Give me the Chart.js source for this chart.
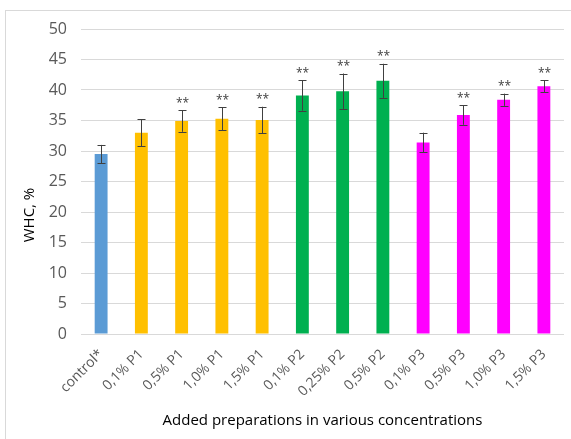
<!DOCTYPE html>
<html>
<head>
<meta charset="utf-8">
<script src="https://cdn.jsdelivr.net/npm/chart.js@4/dist/chart.umd.min.js"></script>
<style>
  html, body { margin: 0; padding: 0; background: #fff; }
  #wrap { width: 571px; height: 439px; position: relative; }
</style>
</head>
<body>
<div id="wrap"><canvas id="c" width="571" height="439"></canvas></div>
<script>
// Water holding capacity by preparation and concentration
const categories = ['control*', '0,1% P1', '0,5% P1', '1,0% P1', '1,5% P1',
  '0,1% P2', '0,25% P2', '0,5% P2', '0,1% P3', '0,5% P3', '1,0% P3', '1,5% P3'];
const whcValues = [29.5, 33.0, 34.9, 35.3, 35.1, 39.1, 39.8, 41.5, 31.4, 35.9, 38.4, 40.6];
const whcErrors = [1.5, 2.2, 1.75, 1.9, 2.15, 2.5, 2.9, 2.8, 1.6, 1.6, 1.0, 1.0];
const significance = ['', '', '**', '**', '**', '**', '**', '**', '', '**', '**', '**'];
const barColors = ['#5B9BD5', '#FFC000', '#FFC000', '#FFC000', '#FFC000',
  '#00B050', '#00B050', '#00B050', '#FF00FF', '#FF00FF', '#FF00FF', '#FF00FF'];
const yTicks = [0, 5, 10, 15, 20, 25, 30, 35, 40, 45, 50];

const FONT = '"Open Sans", "Liberation Sans", sans-serif';

// Outer frame, error bars, significance marks and axis titles
const extras = {
  id: 'extras',
  beforeDraw(chart) {
    const ctx = chart.ctx;
    ctx.save();
    ctx.strokeStyle = '#D9D9D9';
    ctx.lineWidth = 1;
    ctx.strokeRect(5.5, 10.5, 600, 500);
    ctx.restore();
  },
  afterDatasetsDraw(chart) {
    const ctx = chart.ctx;
    const x = chart.scales.x, y = chart.scales.y;
    ctx.save();
    ctx.strokeStyle = '#404040';
    ctx.lineWidth = 1;
    whcValues.forEach((v, i) => {
      const cx = Math.round(x.getPixelForValue(i)) + 0.5;
      const top = y.getPixelForValue(v + whcErrors[i]);
      const bot = y.getPixelForValue(v - whcErrors[i]);
      ctx.beginPath();
      ctx.moveTo(cx, top); ctx.lineTo(cx, bot);
      ctx.moveTo(cx - 4, Math.round(top) + 0.5); ctx.lineTo(cx + 4, Math.round(top) + 0.5);
      ctx.moveTo(cx - 4, Math.round(bot) + 0.5); ctx.lineTo(cx + 4, Math.round(bot) + 0.5);
      ctx.stroke();
      if (significance[i]) {
        ctx.fillStyle = '#404040';
        ctx.font = '12px ' + FONT;
        ctx.textAlign = 'center';
        ctx.textBaseline = 'middle';
        ctx.fillText(significance[i], cx, top - 7);
      }
    });
    // axis titles
    ctx.fillStyle = '#000000';
    ctx.font = '15px ' + FONT;
    ctx.textAlign = 'center';
    ctx.textBaseline = 'middle';
    ctx.fillText('Added preparations in various concentrations', (chart.chartArea.left + chart.chartArea.right) / 2, 421);
    ctx.translate(30, 215);
    ctx.rotate(-Math.PI / 2);
    ctx.fillText('WHC, %', 0, 0);
    ctx.restore();
  }
};

new Chart(document.getElementById('c'), {
  type: 'bar',
  data: {
    labels: categories,
    datasets: [{
      data: whcValues,
      backgroundColor: barColors,
      barPercentage: 0.64,
      categoryPercentage: 0.5
    }]
  },
  options: {
    responsive: false,
    animation: false,
    layout: { padding: { left: 0, right: 7, top: 0, bottom: 0 } },
    plugins: { legend: { display: false }, tooltip: { enabled: false } },
    scales: {
      y: {
        min: 0, max: 50,
        afterBuildTicks(s) { s.ticks = yTicks.map(v => ({ value: v })); },
        afterFit(s) { s.width = 81; },
        grid: { color: '#D9D9D9', drawTicks: false },
        border: { display: false },
        ticks: { color: '#595959', font: { family: FONT, size: 16 }, padding: 14 }
      },
      x: {
        afterFit(s) { s.height = 105; },
        grid: { display: false },
        border: { display: false },
        ticks: {
          color: '#595959', font: { family: FONT, size: 14 },
          minRotation: 45, maxRotation: 45, autoSkip: false, padding: 4
        }
      }
    }
  },
  plugins: [extras, {
    id: 'topPad',
    beforeLayout(chart) { chart.options.layout.padding.top = 29; }
  }]
});
</script>
</body>
</html>
